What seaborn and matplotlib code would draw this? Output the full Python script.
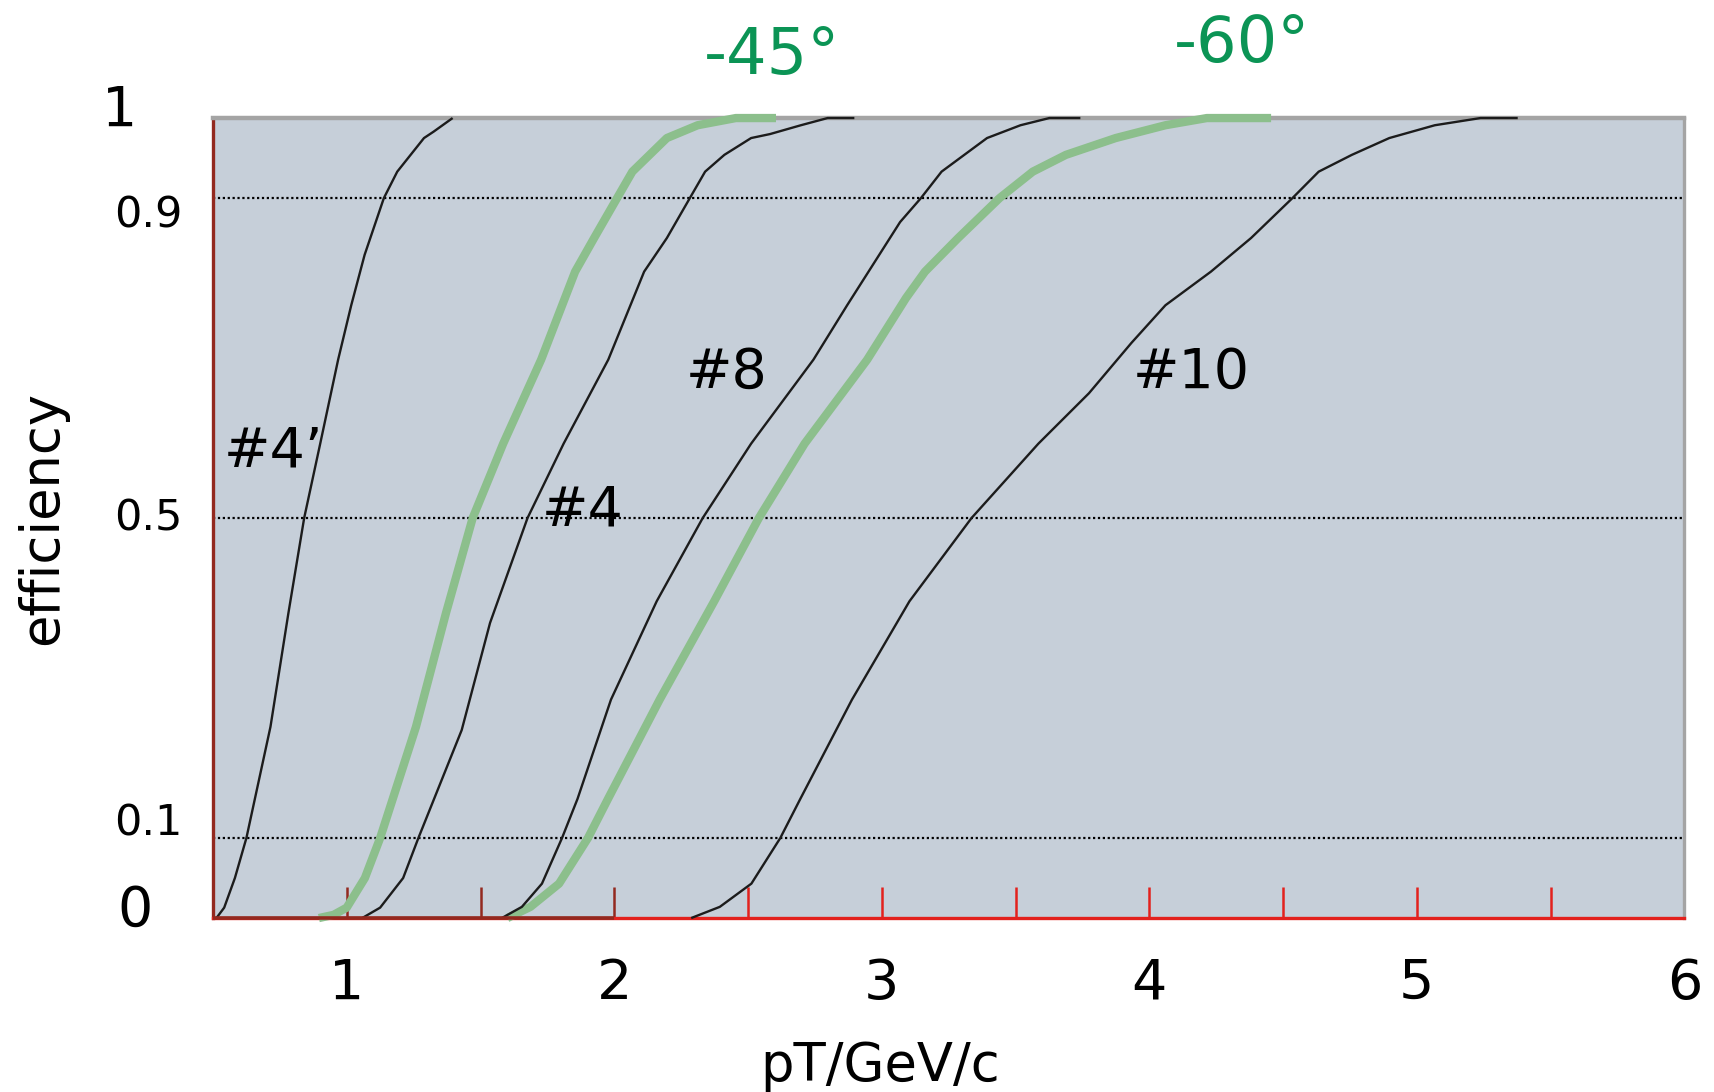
import numpy as np
import pandas as pd
import matplotlib
matplotlib.use("Agg")
import matplotlib.pyplot as plt
import matplotlib.transforms as mtransforms
import seaborn as sns

# ---- efficiency curves: pT (GeV/c) vs trigger efficiency ----
pt_4p = [0.512, 0.541, 0.581, 0.624, 0.714, 0.781, 0.840, 0.900, 0.967, 1.016, 1.066,
         1.138, 1.188, 1.288, 1.324, 1.395]
eff_4p = [0.0, 0.013, 0.050, 0.100, 0.239, 0.381, 0.500, 0.593, 0.698, 0.766, 0.829,
          0.900, 0.933, 0.975, 0.983, 1.0]

pt_m45 = [0.895, 0.950, 0.999, 1.067, 1.124, 1.258, 1.370, 1.470, 1.584, 1.726, 1.853,
          1.924, 2.010, 2.067, 2.196, 2.311, 2.454, 2.604]
eff_m45 = [0.0, 0.004, 0.013, 0.050, 0.100, 0.239, 0.381, 0.500, 0.593, 0.698, 0.808,
           0.850, 0.900, 0.933, 0.975, 0.991, 1.0, 1.0]

pt_4 = [1.057, 1.124, 1.210, 1.267, 1.429, 1.535, 1.675, 1.810, 1.977, 2.111, 2.196,
        2.282, 2.339, 2.411, 2.511, 2.582, 2.697, 2.797, 2.897]
eff_4 = [0.0, 0.013, 0.050, 0.100, 0.235, 0.369, 0.500, 0.593, 0.698, 0.808, 0.850,
         0.900, 0.933, 0.954, 0.975, 0.980, 0.991, 1.0, 1.0]

pt_8 = [1.579, 1.654, 1.729, 1.804, 1.862, 1.987, 2.158, 2.330, 2.511, 2.744, 2.870,
        3.068, 3.146, 3.223, 3.393, 3.518, 3.626, 3.742]
eff_8 = [0.0, 0.014, 0.043, 0.100, 0.149, 0.273, 0.396, 0.500, 0.593, 0.698, 0.766,
         0.870, 0.900, 0.933, 0.975, 0.991, 1.0, 1.0]

pt_m60 = [1.600, 1.686, 1.793, 1.901, 1.976, 2.169, 2.373, 2.540, 2.711, 2.945, 3.090,
          3.161, 3.285, 3.440, 3.564, 3.688, 3.874, 4.060, 4.215, 4.455]
eff_m60 = [0.0, 0.014, 0.043, 0.100, 0.149, 0.273, 0.396, 0.500, 0.593, 0.698, 0.775,
           0.808, 0.850, 0.900, 0.933, 0.954, 0.975, 0.991, 1.0, 1.0]

pt_10 = [2.287, 2.394, 2.512, 2.620, 2.695, 2.888, 3.103, 3.335, 3.585, 3.774, 3.933,
         4.060, 4.230, 4.380, 4.535, 4.633, 4.757, 4.897, 5.067, 5.238, 5.377]
eff_10 = [0.0, 0.014, 0.043, 0.100, 0.149, 0.273, 0.396, 0.500, 0.593, 0.656, 0.719,
          0.766, 0.808, 0.850, 0.900, 0.933, 0.954, 0.975, 0.991, 1.0, 1.0]

curve_names = ["#4\u2019", "-45\u00b0", "#4", "#8", "-60\u00b0", "#10"]
curve_pts = [pt_4p, pt_m45, pt_4, pt_8, pt_m60, pt_10]
curve_effs = [eff_4p, eff_m45, eff_4, eff_8, eff_m60, eff_10]

# label text and anchor (pT, efficiency) for each curve
black_labels = ["#4\u2019", "#4", "#8", "#10"]
black_label_x = [0.726, 1.881, 2.419, 4.155]
black_label_y = [0.583, 0.509, 0.681, 0.682]
angle_labels = ["-45\u00b0", "-60\u00b0"]
angle_label_x = [2.59, 4.347]
angle_label_y = [1.077, 1.093]

y_ticks = [0, 0.1, 0.5, 0.9, 1]
y_tick_labels = ["0", "0.1", "0.5", "0.9", "1"]
x_major = [1, 2, 3, 4, 5, 6]
x_minor = [1.5, 2.5, 3.5, 4.5, 5.5]

frames = []
for name, xs, ys in zip(curve_names, curve_pts, curve_effs):
    frames.append(pd.DataFrame({"pT": xs, "eff": ys, "curve": name}))
df = pd.concat(frames, ignore_index=True)

sns.set_theme(style="white")
plt.rcParams["font.family"] = ["DejaVu Sans"]

BG = "#c6cfd9"
DARK_RED = "#93291f"
RED = "#e3211d"
GREEN_LINE = "#8cbf8c"
GREEN_TEXT = "#0b9455"

fig = plt.figure(figsize=(17.14, 10.92), dpi=100)
ax = fig.add_axes([0.1244, 0.1593, 0.8583, 0.7326])
ax.set_facecolor(BG)

# dotted reference levels
for lvl in [0.1, 0.5, 0.9]:
    ax.axhline(lvl, color="black", lw=1.6, ls=(0, (1.0, 1.2)), zorder=1)

for name in curve_names:
    sub = df[df["curve"] == name]
    green = name.startswith("-")
    sns.lineplot(data=sub, x="pT", y="eff", ax=ax, estimator=None, sort=False,
                 color=GREEN_LINE if green else "#1c1c1c",
                 lw=6.0 if green else 1.7, zorder=3 if green else 4)
    ax.lines[-1].set_clip_on(False)
    ax.lines[-1].set_solid_capstyle("butt")
    ax.lines[-1].set_solid_joinstyle("round")

for txt, x, y in zip(black_labels, black_label_x, black_label_y):
    ax.text(x, y, txt, ha="center", va="center", fontsize=40, color="black", zorder=5)
for txt, x, y in zip(angle_labels, angle_label_x, angle_label_y):
    ax.text(x, y, txt, ha="center", va="center", fontsize=46, color=GREEN_TEXT,
            clip_on=False)

ax.set_xlim(0.5, 6)
ax.set_ylim(0, 1)

# spines
ax.spines["top"].set_color("#a4a4a4")
ax.spines["top"].set_linewidth(3.2)
ax.spines["right"].set_color("#a4a4a4")
ax.spines["right"].set_linewidth(2.4)
ax.spines["left"].set_color(DARK_RED)
ax.spines["left"].set_linewidth(2.4)
ax.spines["bottom"].set_color(RED)
ax.spines["bottom"].set_linewidth(2.4)
ax.hlines(0, 0.5, 2.0, color=DARK_RED, lw=2.6, clip_on=False, zorder=6)

# x ticks: inward, coloured like the axis segment they sit on
ax.set_xticks(x_major, [str(v) for v in x_major])
ax.set_xticks(x_minor, minor=True)
ax.tick_params(axis="x", which="both", direction="in", length=22, width=1.8,
               pad=28, labelsize=40, bottom=True, top=False, color=RED,
               labelcolor="black")
for t, v in zip(ax.xaxis.get_major_ticks(), x_major):
    t.tick1line.set_markeredgecolor(DARK_RED if v <= 2 else RED)
for t, v in zip(ax.xaxis.get_minor_ticks(), x_minor):
    t.tick1line.set_markeredgecolor(DARK_RED if v <= 2 else RED)

# y tick labels placed freely beside the axis
ax.set_yticks(y_ticks, y_tick_labels)
ax.tick_params(axis="y", length=0, pad=22, left=False, labelcolor="black")
y_offsets = {0: (-0.30, 0.13, 40), 0.1: (0.0, 0.186, 31), 0.5: (0.0, 0.04, 31),
             0.9: (0.0, -0.125, 31), 1: (-0.45, 0.13, 40)}
for lab, v in zip(ax.get_yticklabels(), y_ticks):
    dx, dy, fs = y_offsets[v]
    lab.set_fontsize(fs)
    lab.set_transform(lab.get_transform() +
                      mtransforms.ScaledTranslation(dx, dy, fig.dpi_scale_trans))

ax.set_xlabel("pT/GeV/c", fontsize=38, color="black")
ax.xaxis.set_label_coords(0.4534, -0.152)
ax.set_ylabel("efficiency", fontsize=38, color="black")
ax.yaxis.set_label_coords(-0.0987, 0.5)

fig.savefig("out.png", dpi=100, facecolor="white")
